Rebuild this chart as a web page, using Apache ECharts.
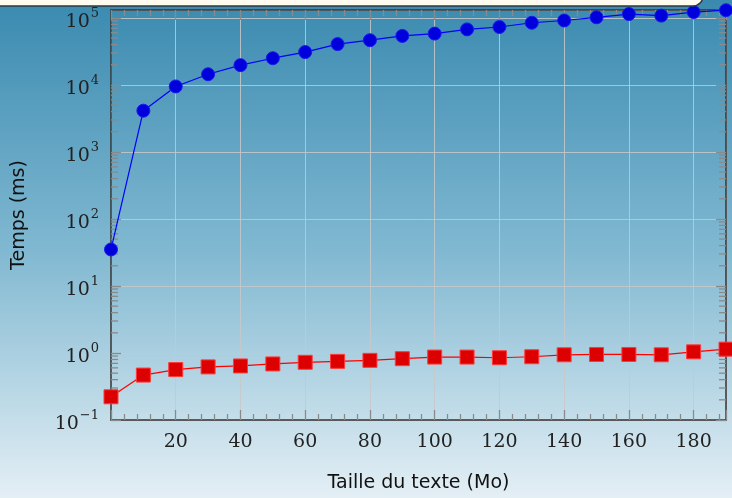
<!DOCTYPE html>
<html>
<head>
<meta charset="utf-8">
<script src="https://cdn.jsdelivr.net/npm/echarts@6/dist/echarts.min.js"></script>
<style>
html,body{margin:0;padding:0;background:#fff;}
#chart{width:732px;height:498px;}
</style>
</head>
<body>
<div id="chart"></div>
<script>
// ---- data ----
var sizes = [0, 10, 20, 30, 40, 50, 60, 70, 80, 90, 100, 110, 120, 130, 140, 150, 160, 170, 180, 190];
var blueTimes = [35, 4120, 9480, 14400, 19700, 25000, 30900, 40600, 46400, 53800, 58200, 67300, 73000, 84500, 91300, 102000, 114000, 108000, 122000, 130000];
var redTimes = [0.222, 0.468, 0.566, 0.62, 0.64, 0.686, 0.726, 0.75, 0.776, 0.822, 0.869, 0.869, 0.849, 0.879, 0.94, 0.95, 0.95, 0.94, 1.04, 1.14];
var xTickLabels = ['20', '40', '60', '80', '100', '120', '140', '160', '180'];
var yDecades = [-1, 0, 1, 2, 3, 4, 5];
var minorMultipliers = [2, 3, 4, 5, 6, 7, 8, 9];

var xMin = 0, xMax = 190, yMin = 0.1, yMax = 131000;

var minorValues = [];
yDecades.forEach(function (d) {
  minorMultipliers.forEach(function (m) {
    var v = m * Math.pow(10, d);
    if (v < yMax) minorValues.push([v]);
  });
});

function supLabel(v) {
  var e = Math.round(Math.log(v) / Math.LN10);
  if (Math.abs(Math.pow(10, e) - v) / v > 1e-6) return '';
  if (yDecades.indexOf(e) < 0) return '';
  var es = e < 0 ? '\u2212' + (-e) : '' + e;
  return '{b|10}{s|' + es + '}';
}

var chart = echarts.init(document.getElementById('chart'), null, {renderer: 'canvas'});
var axisColor = '#333333';
var tickColor = '#8a8a8a';
var gridColor = 'rgba(200,200,200,0.85)';

var option = {
  animation: false,
  backgroundColor: {
    type: 'linear', x: 0, y: 0, x2: 0, y2: 1,
    colorStops: [
      {offset: 0, color: '#3a8ab0'},
      {offset: 0.5, color: '#80b8d1'},
      {offset: 1, color: '#e4eff5'}
    ]
  },
  graphic: [{
    type: 'rect',
    shape: {x: -12, y: -20, width: 715, height: 26, r: 10},
    style: {fill: '#fffbee', stroke: '#2f3a40', lineWidth: 1.5},
    z: 100
  }],
  grid: {left: 111, right: 6, top: 10, bottom: 71, containLabel: false},
  xAxis: [{
    type: 'value', min: xMin, max: xMax, interval: 20, position: 'bottom',
    axisLine: {show: true, onZero: false, lineStyle: {color: axisColor, width: 1.5}},
    axisTick: {show: true, inside: true, length: 10, lineStyle: {color: tickColor, width: 1.3}},
    minorTick: {show: true, splitNumber: 5, length: 6, lineStyle: {color: tickColor, width: 1.3}},
    splitLine: {show: true, lineStyle: {color: gridColor, width: 1}},
    axisLabel: {
      show: true, margin: 13, color: '#222', fontFamily: 'DejaVu Serif', fontSize: 19,
      showMinLabel: false, showMaxLabel: false,
      formatter: function (v) { var s = String(v); return xTickLabels.indexOf(s) >= 0 ? s : ''; }
    },
    name: 'Taille du texte (Mo)', nameLocation: 'middle', nameGap: 54,
    nameTextStyle: {color: '#111', fontFamily: 'DejaVu Sans', fontSize: 19}
  }, {
    type: 'value', min: xMin, max: xMax, interval: 20, position: 'top',
    axisLine: {show: true, onZero: false, lineStyle: {color: axisColor, width: 1.5}},
    axisTick: {show: true, inside: true, length: 10, lineStyle: {color: tickColor, width: 1.3}},
    minorTick: {show: true, splitNumber: 5, length: 6, lineStyle: {color: tickColor, width: 1.3}},
    splitLine: {show: false},
    axisLabel: {show: false}
  }],
  yAxis: [{
    type: 'log', logBase: 10, min: yMin, max: yMax, position: 'left',
    axisLine: {show: true, onZero: false, lineStyle: {color: axisColor, width: 1.5}},
    axisTick: {show: true, inside: true, length: 10, lineStyle: {color: tickColor, width: 1.3}},
    splitLine: {show: true, lineStyle: {color: gridColor, width: 1}},
    axisLabel: {
      show: true, margin: 12, color: '#222', showMaxLabel: false,
      formatter: supLabel,
      rich: {
        b: {fontFamily: 'DejaVu Serif', fontSize: 19, color: '#222', padding: [8, 0, 0, 0]},
        s: {fontFamily: 'DejaVu Serif', fontSize: 13, color: '#222', padding: [0, 0, 8, 1]}
      }
    },
    name: 'Temps (ms)', nameLocation: 'middle', nameGap: 82,
    nameTextStyle: {color: '#111', fontFamily: 'DejaVu Sans', fontSize: 19}
  }, {
    type: 'log', logBase: 10, min: yMin, max: yMax, position: 'right',
    axisLine: {show: true, onZero: false, lineStyle: {color: axisColor, width: 1.5}},
    axisTick: {show: true, inside: true, length: 10, lineStyle: {color: tickColor, width: 1.3}},
    splitLine: {show: false},
    axisLabel: {show: false}
  }],
  series: [{
    type: 'custom',
    silent: true,
    xAxisIndex: 0, yAxisIndex: 0,
    data: minorValues,
    encode: {y: 0},
    clip: false,
    z: 3,
    renderItem: function (params, api) {
      var cs = params.coordSys;
      var p = api.coord([xMin, api.value(0)]);
      var y = p[1];
      var style = {stroke: tickColor, lineWidth: 1.3};
      return {
        type: 'group',
        children: [
          {type: 'line', shape: {x1: cs.x, y1: y, x2: cs.x + 7, y2: y}, style: style},
          {type: 'line', shape: {x1: cs.x + cs.width - 7, y1: y, x2: cs.x + cs.width, y2: y}, style: style}
        ]
      };
    }
  }, {
    type: 'line',
    data: sizes.map(function (x, i) { return [x, blueTimes[i]]; }),
    symbol: 'circle', symbolSize: 13,
    clip: false,
    z: 10,
    lineStyle: {color: '#0000ff', width: 1.2},
    itemStyle: {color: '#0000dd', borderColor: '#1a1aee', borderWidth: 1}
  }, {
    type: 'line',
    data: sizes.map(function (x, i) { return [x, redTimes[i]]; }),
    symbol: 'rect', symbolSize: 14,
    clip: false,
    z: 10,
    lineStyle: {color: '#ff0000', width: 1.2},
    itemStyle: {color: '#dd0000', borderColor: '#ff3a3a', borderWidth: 1}
  }]
};
chart.setOption(option);
</script>
</body>
</html>
